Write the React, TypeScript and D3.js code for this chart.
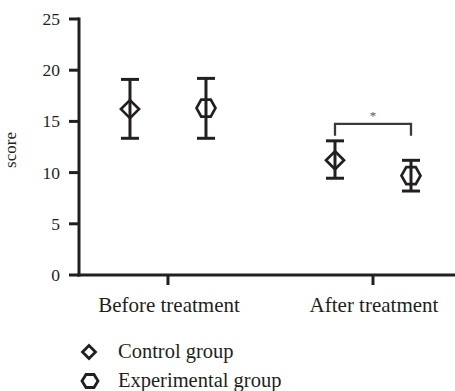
import React from "react";
import * as d3 from "d3";

const categories = ["Before treatment", "After treatment"];
const seriesNames = ["Control group", "Experimental group"];
const controlMean = [16.2, 11.2];
const controlUpper = [19.1, 13.1];
const controlLower = [13.35, 9.45];
const expMean = [16.3, 9.7];
const expUpper = [19.2, 11.2];
const expLower = [13.35, 8.2];
const yTicks = [0, 5, 10, 15, 20, 25];
const sigLabel = "*";

const W = 455;
const H = 391;
const INK = "#231f20";
const FONT = "Liberation Serif, DejaVu Serif, serif";

function diamondPath(cx: number, cy: number, rx: number, ry: number) {
  return `M${cx},${cy - ry}L${cx + rx},${cy}L${cx},${cy + ry}L${cx - rx},${cy}Z`;
}
function hexPath(cx: number, cy: number, rx: number, ry: number) {
  const h = rx / 2;
  return `M${cx - rx},${cy}L${cx - h},${cy - ry}L${cx + h},${cy - ry}L${cx + rx},${cy}L${cx + h},${cy + ry}L${cx - h},${cy + ry}Z`;
}

export default function App() {
  const y = d3.scaleLinear().domain([0, 25]).range([275, 19]);
  const x = d3.scaleLinear().domain([-0.434, 1.4]).range([79, 455]);
  const off = 38;
  const series = [
    { mean: controlMean, up: controlUpper, lo: controlLower, shape: "d", dx: -off },
    { mean: expMean, up: expUpper, lo: expLower, shape: "h", dx: off },
  ];
  const cap = 9;
  const bx1 = x(1) - off;
  const bx2 = x(1) + off;
  const top = Math.max(controlUpper[1], expUpper[1]);
  const bY = y(top + 1.65);
  const bEnd = y(top + 0.5);

  return (
    <svg width={W} height={H} style={{ position: "absolute", left: 0, top: 0 }}>
      <rect width={W} height={H} fill="#fff" />
      {/* y axis */}
      <line x1={79} x2={79} y1={y(25) - 1.5} y2={y(0) + 1.5} stroke={INK} strokeWidth={3} />
      {yTicks.map((t) => (
        <g key={t}>
          <line x1={69} x2={79} y1={y(t)} y2={y(t)} stroke={INK} strokeWidth={3} />
          <text x={60} y={y(t)} dy="0.34em" textAnchor="end" fontFamily={FONT} fontSize={17.5} fill={INK}>
            {t}
          </text>
        </g>
      ))}
      <text
        transform={`translate(16,${150}) rotate(-90)`}
        textAnchor="middle"
        fontFamily={FONT}
        fontSize={17}
        fill={INK}
      >
        score
      </text>
      {/* x axis */}
      <line x1={77.5} x2={455} y1={y(0)} y2={y(0)} stroke={INK} strokeWidth={3} />
      {categories.map((c, i) => (
        <g key={c}>
          <line x1={x(i)} x2={x(i)} y1={y(0)} y2={y(0) + 10} stroke={INK} strokeWidth={3} />
          <text x={x(i) + 1} y={312} textAnchor="middle" fontFamily={FONT} fontSize={21} fill={INK}>
            {c}
          </text>
        </g>
      ))}
      {/* error bars and markers */}
      {series.map((s, si) =>
        categories.map((_, i) => {
          const cx = x(i) + s.dx;
          const cy = y(s.mean[i]);
          return (
            <g key={`${si}-${i}`} stroke={INK} strokeWidth={3} fill="none">
              <line x1={cx} x2={cx} y1={y(s.up[i])} y2={y(s.lo[i])} />
              <line x1={cx - cap} x2={cx + cap} y1={y(s.up[i])} y2={y(s.up[i])} />
              <line x1={cx - cap} x2={cx + cap} y1={y(s.lo[i])} y2={y(s.lo[i])} />
              {s.shape === "d" ? (
                <path d={diamondPath(cx, cy, 9, 9)} strokeWidth={2.7} />
              ) : (
                <path d={hexPath(cx, cy, 9.5, 8.5)} strokeWidth={2.7} />
              )}
            </g>
          );
        })
      )}
      {/* significance bracket */}
      <path
        d={`M${bx1},${bEnd}L${bx1},${bY}L${bx2},${bY}L${bx2},${bEnd}`}
        stroke="#3a3a3a"
        strokeWidth={2.3}
        fill="none"
      />
      <text x={(bx1 + bx2) / 2} y={bY - 4} textAnchor="middle" fontFamily={FONT} fontSize={13} fill="#555">
        {sigLabel}
      </text>
      {/* legend */}
      {seriesNames.map((n, i) => {
        const ly = 352 + i * 29;
        return (
          <g key={n}>
            {i === 0 ? (
              <path d={diamondPath(89, ly, 6.5, 6.5)} stroke={INK} strokeWidth={2.8} fill="none" />
            ) : (
              <path d={hexPath(90, ly, 8, 6.5)} stroke={INK} strokeWidth={2.8} fill="none" />
            )}
            <text x={118} y={ly + 6} fontFamily={FONT} fontSize={20.5} fill={INK}>
              {n}
            </text>
          </g>
        );
      })}
    </svg>
  );
}
